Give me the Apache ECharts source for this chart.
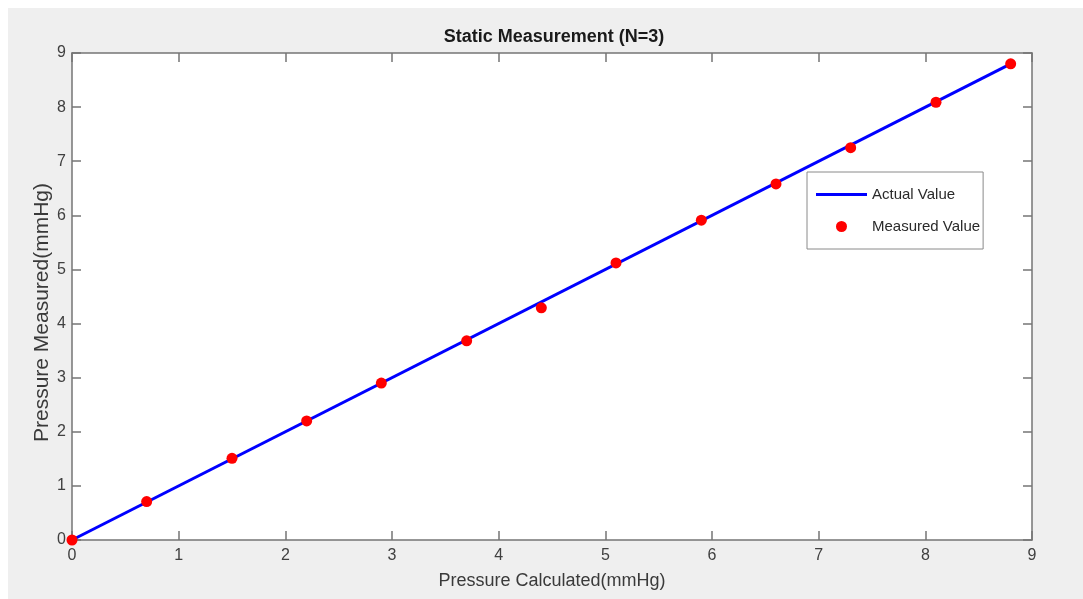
<!DOCTYPE html>
<html>
<head>
<meta charset="utf-8">
<script src="https://cdn.jsdelivr.net/npm/echarts@6/dist/echarts.min.js"></script>
<style>
    html, body { margin: 0; padding: 0; background: #ffffff; }
    #chart { position: absolute; left: 8px; top: 8px; width: 1075px; height: 591px; }
</style>
</head>
<body>
<div id="chart"></div>
<script>
// 实际值（直线两端）
const actualX = [0, 8.8]
const actualY = [0, 8.8]
// 测量值
const measuredX = [0, 0.7, 1.5, 2.2, 2.9, 3.7, 4.4, 5.1, 5.9, 6.6, 7.3, 8.1, 8.8]
const measuredY = [0, 0.71, 1.51, 2.2, 2.9, 3.68, 4.29, 5.12, 5.91, 6.58, 7.25, 8.09, 8.8]
const tickMin = 0
const tickMax = 9

const axisColor = '#757575'
const labelColor = '#404040'
const font = 'Liberation Sans, Arial, sans-serif'

let myChart = echarts.init(document.getElementById('chart'))

function axisBase (show) {
    return {
        type: 'value',
        min: tickMin,
        max: tickMax,
        interval: 1,
        axisLine: { show: true, onZero: false, lineStyle: { color: axisColor, width: 1.5 } },
        axisTick: { show: true, inside: true, length: 9, lineStyle: { color: axisColor, width: 1.5 } },
        splitLine: { show: false },
        axisLabel: { show: show, color: labelColor, fontSize: 16, fontFamily: font }
    }
}

let xBottom = axisBase(true)
xBottom.position = 'bottom'
xBottom.axisLabel.margin = 8
xBottom.name = 'Pressure Calculated(mmHg)'
xBottom.nameLocation = 'middle'
xBottom.nameGap = 32
xBottom.nameTextStyle = { color: '#3a3a3a', fontSize: 18, fontFamily: font }

let xTop = axisBase(false)
xTop.position = 'top'

let yLeft = axisBase(true)
yLeft.position = 'left'
yLeft.axisLabel.margin = 6
yLeft.name = 'Pressure Measured(mmHg)'
yLeft.nameLocation = 'middle'
yLeft.nameGap = 19
yLeft.nameMoveOverlap = false
yLeft.nameTextStyle = { color: '#3a3a3a', fontSize: 21, fontFamily: font, padding: [0, 32, 0, 0] }

let yRight = axisBase(false)
yRight.position = 'right'

myChart.setOption({
    backgroundColor: '#efefef',
    animation: false,
    title: {
        text: 'Static Measurement (N=3)',
        left: 541,
        textAlign: 'center',
        top: 15,
        textStyle: { fontSize: 18, fontWeight: 'bold', color: '#1a1a1a', fontFamily: font }
    },
    legend: {
        orient: 'vertical',
        left: 799,
        top: 164,
        padding: [15, 3, 15, 9],
        itemGap: 17,
        itemWidth: 51,
        itemHeight: 11,
        backgroundColor: '#ffffff',
        borderColor: '#8a8a8a',
        borderWidth: 1,
        textStyle: { fontSize: 15, color: '#2a2a2a', fontFamily: font },
        data: [
            { name: 'Actual Value', icon: 'path://M0,0 H51 V3 H0 Z', itemStyle: { color: '#0000ff' } },
            { name: 'Measured Value', icon: 'circle' }
        ]
    },
    grid: {
        left: 64,
        right: 51,
        top: 45,
        bottom: 59,
        show: true,
        backgroundColor: '#ffffff',
        borderWidth: 0
    },
    xAxis: [xBottom, xTop],
    yAxis: [yLeft, yRight],
    series: [
        {
            name: 'Actual Value',
            type: 'line',
            symbol: 'none',
            lineStyle: { color: '#0000ff', width: 3 },
            itemStyle: { color: '#0000ff' },
            data: actualX.map((x, i) => [x, actualY[i]]),
            z: 2
        },
        {
            name: 'Measured Value',
            type: 'scatter',
            symbolSize: 11,
            itemStyle: { color: '#ff0000', opacity: 1 },
            data: measuredX.map((x, i) => [x, measuredY[i]]),
            z: 3
        }
    ]
})

window.addEventListener('resize', function () {
    myChart.resize()
})
</script>
</body>
</html>
